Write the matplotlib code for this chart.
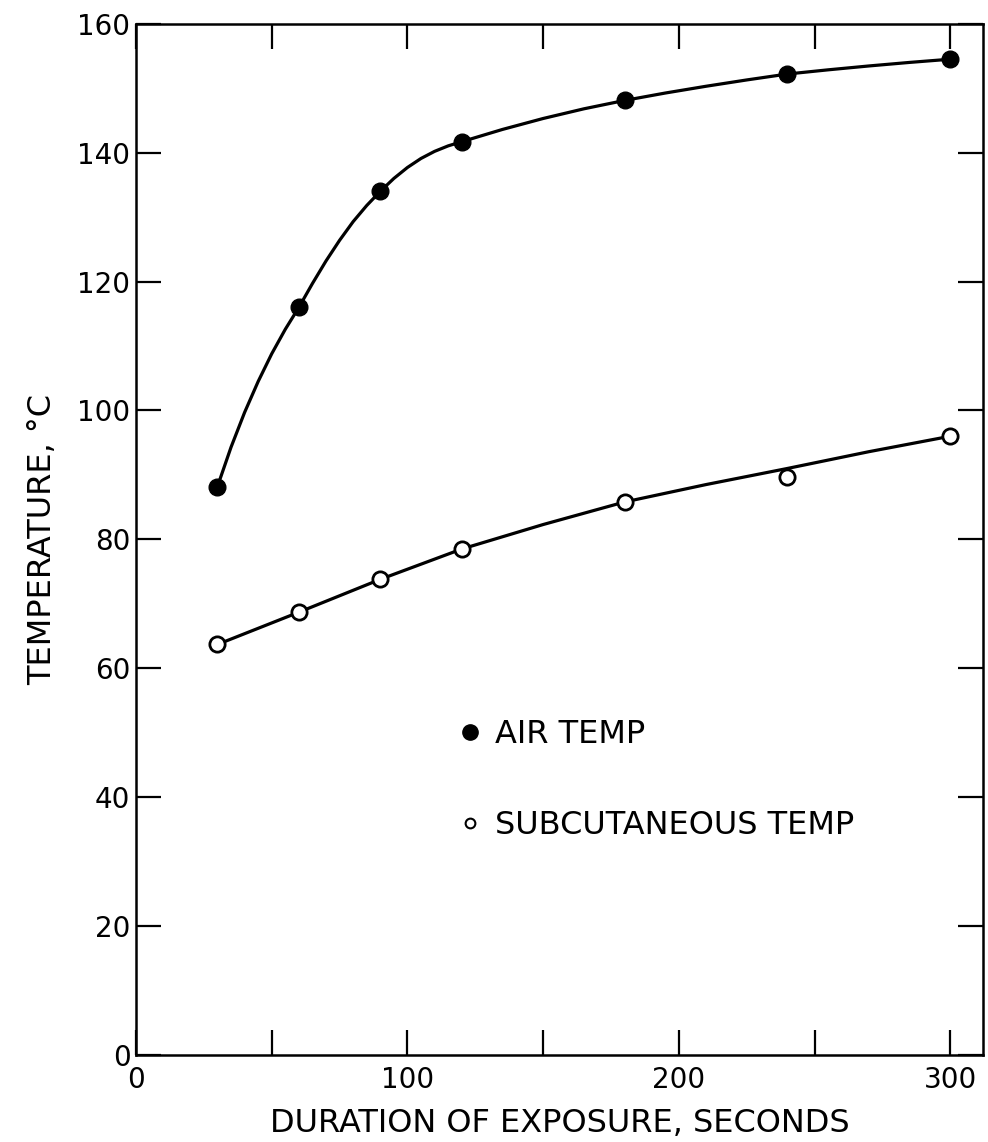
import matplotlib.pyplot as plt
from matplotlib.lines import Line2D

# exposure time (s) and measured temperatures (deg C)
times = [30, 60, 90, 120, 180, 240, 300]
air_temp = [88.2, 116.0, 134.0, 141.7, 148.1, 152.2, 154.5]
sub_temp = [63.7, 68.7, 73.8, 78.5, 85.8, 89.6, 96.0]

# hand-drawn curves
air_curve_t = [30, 35, 40, 45, 50, 55, 60, 65, 70, 75, 80, 85, 90, 95, 100, 105, 110, 115, 120,
               135, 150, 165, 180, 195, 210, 225, 240, 255, 270, 285, 300]
air_curve = [88.2, 94.3, 99.7, 104.5, 108.8, 112.6, 116.0, 119.7, 123.2, 126.4, 129.3, 131.8,
             134.0, 136.0, 137.7, 139.1, 140.2, 141.05, 141.7, 143.6, 145.3, 146.8, 148.1,
             149.25, 150.3, 151.28, 152.2, 152.85, 153.45, 154.0, 154.5]
sub_curve_t = [30, 60, 90, 120, 150, 180, 210, 240, 270, 300]
sub_curve = [63.7, 68.7, 73.8, 78.5, 82.3, 85.8, 88.5, 91.0, 93.6, 96.0]

x_ticks = [0, 50, 100, 150, 200, 250, 300]
x_labels = ['0', '', '100', '', '200', '', '300']
y_ticks = [0, 20, 40, 60, 80, 100, 120, 140, 160]

plt.rcParams['font.family'] = ['DejaVu Sans']

fig = plt.figure(figsize=(9.88, 11.42), dpi=100)
ax = fig.add_axes([0.1377, 0.0762, 0.857, 0.903])

ax.plot(air_curve_t, air_curve, color='black', lw=2.3, solid_capstyle='round',
        solid_joinstyle='round')
ax.plot(sub_curve_t, sub_curve, color='black', lw=2.3, solid_capstyle='round',
        solid_joinstyle='round')
ax.plot(times, air_temp, 'o', color='black', ms=12, zorder=3)
ax.plot(times, sub_temp, 'o', mfc='white', mec='black', mew=2, ms=11, zorder=3)

ax.set_xlim(0, 312)
ax.set_ylim(0, 160)
ax.set_xticks(x_ticks)
ax.set_xticklabels(x_labels)
ax.set_yticks(y_ticks)

ax.tick_params(direction='in', length=18, width=1.6, labelsize=20,
               top=True, right=True)
ax.tick_params(axis='x', pad=8)
ax.tick_params(axis='y', pad=4)
for s in ax.spines.values():
    s.set_linewidth(1.8)

ax.set_xlabel('DURATION OF EXPOSURE, SECONDS', fontsize=23, labelpad=10)
ax.set_ylabel('TEMPERATURE, °C', fontsize=23, labelpad=14)

handles = [Line2D([], [], marker='o', ls='none', color='black', ms=11),
           Line2D([], [], marker='o', ls='none', mfc='white', mec='black', mew=1.5, ms=7)]
ax.legend(handles, ['AIR TEMP', 'SUBCUTANEOUS TEMP'], loc='upper left',
          bbox_to_anchor=(0.379, 0.326), frameon=False, fontsize=23,
          handletextpad=0.38, labelspacing=1.9, borderpad=0, borderaxespad=0,
          handlelength=0.8)

plt.savefig('out.png')
